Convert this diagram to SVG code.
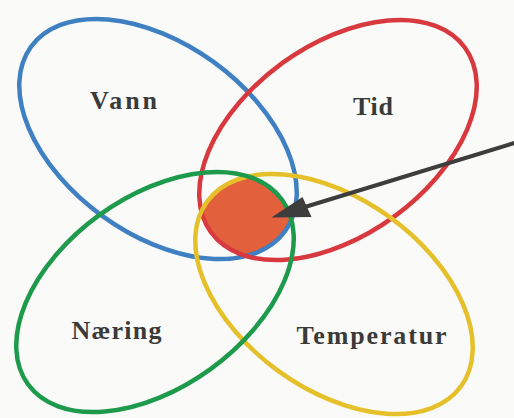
<svg xmlns="http://www.w3.org/2000/svg" width="514" height="418" viewBox="0 0 514 418">
  <style>
    .ring { fill: none; stroke-width: 4.5; }
    .label { font-family: "Liberation Serif", "Times New Roman", serif; font-weight: bold; font-size: 26px; fill: #3a3a3a; text-anchor: middle; }
  </style>
  <defs>
    <ellipse id="eBlue" cx="0" cy="0" rx="157" ry="95" transform="translate(158,139) rotate(36)"/>
    <ellipse id="eRed" cx="0" cy="0" rx="157" ry="95" transform="translate(338,140) rotate(-36)"/>
    <ellipse id="eGreen" cx="0" cy="0" rx="157" ry="95" transform="translate(155,292) rotate(-36)"/>
    <ellipse id="eYellow" cx="0" cy="0" rx="157" ry="95" transform="translate(334,294) rotate(36)"/>
    <clipPath id="cBlue"><use href="#eBlue"/></clipPath>
    <clipPath id="cRed"><use href="#eRed"/></clipPath>
    <clipPath id="cGreen"><use href="#eGreen"/></clipPath>
    <clipPath id="cYellow"><use href="#eYellow"/></clipPath>
  </defs>
  <rect width="514" height="418" fill="#fafaf8"/>

  <g id="core">
    <g clip-path="url(#cBlue)">
      <g clip-path="url(#cRed)">
        <g clip-path="url(#cGreen)">
          <rect x="0" y="0" width="514" height="418" fill="#e2603c" clip-path="url(#cYellow)"/>
        </g>
      </g>
    </g>
  </g>

  <g id="vann">
    <use href="#eBlue" class="ring" stroke="#3f80c2"/>
    <text class="label" x="123.5" y="109" textLength="67" lengthAdjust="spacing">Vann</text>
  </g>
  <g id="tid">
    <use href="#eRed" class="ring" stroke="#d8393e"/>
    <text class="label" x="373" y="115" textLength="40" lengthAdjust="spacing">Tid</text>
  </g>
  <g id="temperatur">
    <use href="#eYellow" class="ring" stroke="#e6c02a"/>
    <text class="label" x="371.5" y="344" textLength="150" lengthAdjust="spacing">Temperatur</text>
  </g>
  <g id="naering">
    <use href="#eGreen" class="ring" stroke="#1e9a4c"/>
    <text class="label" x="116.5" y="339" textLength="90" lengthAdjust="spacing">Næring</text>
  </g>

  <g id="connectors">
    <line x1="516" y1="142.5" x2="300" y2="208.5" stroke="#3d3d3d" stroke-width="4"/>
    <polygon points="271.5,217.5 302.5,197 311.5,217" fill="#3d3d3d"/>
  </g>
</svg>
